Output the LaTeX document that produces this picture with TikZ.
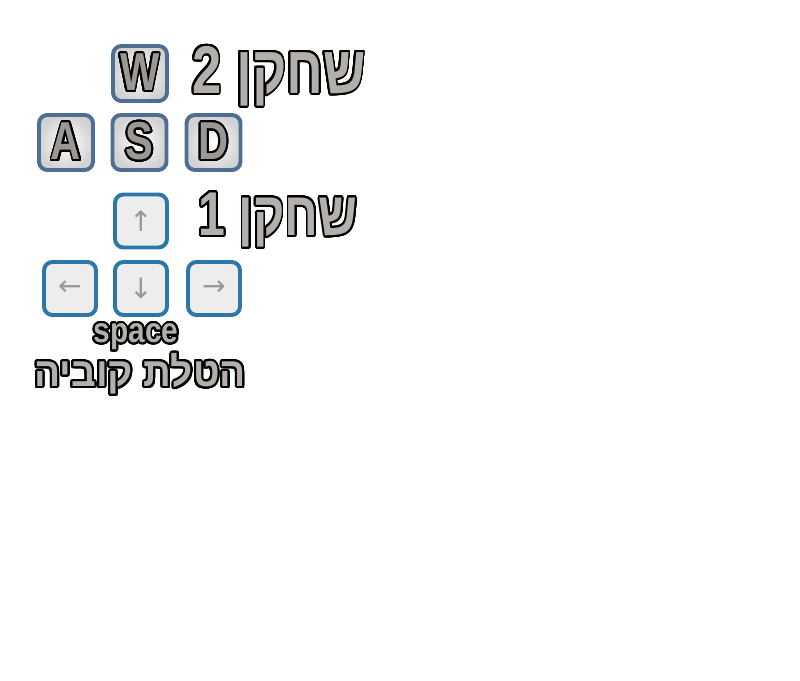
\documentclass[tikz,border=0pt]{standalone}
\usepackage{fontspec}
\usepackage{contour}
\setmainfont{Liberation Sans}
\newfontfamily\hebfont{Liberation Sans}[Script=Hebrew]
\newfontfamily\arrowfont{DejaVu Sans}
\TeXXeTstate=1
\contournumber{32}
\definecolor{wasdblue}{HTML}{4F6E93}
\definecolor{arrowblue}{HTML}{2A78A8}
\definecolor{keyface}{HTML}{EDEDED}
\definecolor{lettergray}{HTML}{9C9792}
\definecolor{titlegray}{HTML}{B3AFAB}
\newcommand{\rimtext}[4]
{   \contourlength{1.5pt}{\fontsize{#1}{#1}\hebfont\bfseries\color{#3}\scalebox{#2}[1]{\contour{black}{#4}}}
}
\newcommand{\keyletter}[1]{\rimtext{38}{0.78}{lettergray}{#1}}
\newcommand{\bigtitle}[3]{\rimtext{#1}{#2}{titlegray}{#3}}
\tikzset{
  wasdkey/.style={draw=wasdblue, line width=2.8pt, rounded corners=6pt, minimum width=54pt*0.711, minimum height=55pt*0.711,
    inner color=white, outer color=gray!35, inner sep=0pt},
  arrowkey/.style={draw=arrowblue, line width=2.8pt, rounded corners=6pt, fill=keyface, minimum width=52pt*0.711,
    minimum height=53pt*0.711, inner sep=0pt, font=\arrowfont\fontsize{20}{20}\selectfont, text=gray!80}
}

\begin{document}
\begin{tikzpicture}[x=0.025cm, y=-0.025cm]
 \useasboundingbox (0,0) rectangle (800,681);

 \node[wasdkey] (keyW) at (140,73.5) {\keyletter{W}};
 \node[wasdkey] (keyA) at (66,142.5) {\keyletter{A}};
 \node[wasdkey] (keyS) at (139.5,142.5) {\keyletter{S}};
 \node[wasdkey] (keyD) at (213.5,142.5) {\keyletter{D}};

 \node[arrowkey] (keyUp) at (141,221) {↑};
 \node[arrowkey] (keyLeft) at (70,288.5) {←};
 \node[arrowkey] (keyDown) at (141,288.5) {↓};
 \node[arrowkey] (keyRight) at (214,288.5) {→};

 \node (playerTwo) at (279,77) {\bigtitle{48}{0.78}{\beginR שחקן 2\endR}};
 \node (playerOne) at (278,221) {\bigtitle{44}{0.78}{\beginR שחקן 1\endR}};
 \node[inner sep=1pt] (spaceKey) at (136,338) {\bigtitle{25}{0.85}{space}};
 \node[inner sep=1pt] (rollDice) at (140,375) {\bigtitle{29}{0.95}{\beginR הטלת קוביה\endR}};

\end{tikzpicture}
\end{document}
